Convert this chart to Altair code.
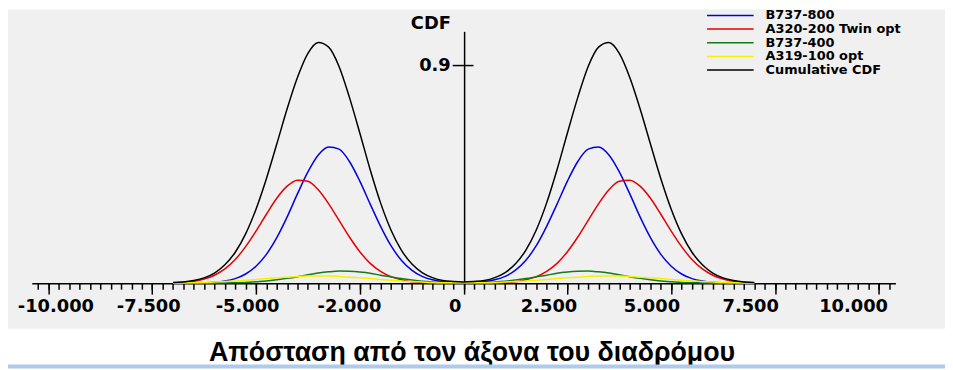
import altair as alt
import pandas as pd

# ---- data ----
x_pos = [-7000, -6750, -6500, -6250, -6000, -5750, -5500, -5250, -5000, -4750,
         -4500, -4250, -4000, -3750, -3500, -3250, -3000, -2750, -2500, -2250,
         -2000, -1750, -1500, -1250, -1000, -750, -500, -250, 0,
         250, 500, 750, 1000, 1250, 1500, 1750, 2000, 2250, 2500,
         2750, 3000, 3250, 3500, 3750, 4000, 4250, 4500, 4750, 5000,
         5250, 5500, 5750, 6000, 6250, 6500, 6750, 7000]

b737_800 = [0.000, 0.000, 0.001, 0.002, 0.004, 0.009, 0.019, 0.038, 0.070, 0.119,
            0.188, 0.274, 0.370, 0.460, 0.530, 0.563, 0.554, 0.503, 0.422, 0.327,
            0.235, 0.155, 0.095, 0.054, 0.028, 0.014, 0.006, 0.003, 0.002,
            0.003, 0.006, 0.014, 0.028, 0.054, 0.095, 0.155, 0.235, 0.327, 0.422,
            0.503, 0.554, 0.563, 0.530, 0.460, 0.370, 0.274, 0.188, 0.119, 0.070,
            0.038, 0.019, 0.009, 0.004, 0.002, 0.001, 0.000, 0.000]

a320_200 = [0.002, 0.004, 0.008, 0.017, 0.033, 0.059, 0.098, 0.151, 0.215, 0.285,
            0.351, 0.401, 0.426, 0.421, 0.386, 0.328, 0.260, 0.191, 0.130, 0.082,
            0.049, 0.027, 0.014, 0.006, 0.003, 0.001, 0.000, 0.000, 0.000,
            0.000, 0.000, 0.001, 0.003, 0.006, 0.014, 0.027, 0.049, 0.082, 0.130,
            0.191, 0.260, 0.328, 0.386, 0.421, 0.426, 0.401, 0.351, 0.285, 0.215,
            0.151, 0.098, 0.059, 0.033, 0.017, 0.008, 0.004, 0.002]

b737_400 = [0.000, 0.000, 0.000, 0.000, 0.000, 0.001, 0.002, 0.003, 0.006, 0.009,
            0.014, 0.020, 0.027, 0.035, 0.042, 0.047, 0.050, 0.049, 0.046, 0.041,
            0.033, 0.026, 0.019, 0.013, 0.008, 0.005, 0.003, 0.002, 0.002,
            0.002, 0.003, 0.005, 0.008, 0.013, 0.019, 0.026, 0.033, 0.041, 0.046,
            0.049, 0.050, 0.047, 0.042, 0.035, 0.027, 0.020, 0.014, 0.009, 0.006,
            0.003, 0.002, 0.001, 0.000, 0.000, 0.000, 0.000, 0.000]

a319_100 = [0.001, 0.001, 0.002, 0.003, 0.005, 0.007, 0.009, 0.012, 0.015, 0.019,
            0.022, 0.025, 0.028, 0.030, 0.030, 0.030, 0.028, 0.025, 0.022, 0.019,
            0.015, 0.012, 0.009, 0.007, 0.005, 0.003, 0.002, 0.002, 0.002,
            0.002, 0.002, 0.003, 0.005, 0.007, 0.009, 0.012, 0.015, 0.019, 0.022,
            0.025, 0.028, 0.030, 0.030, 0.030, 0.028, 0.025, 0.022, 0.019, 0.015,
            0.012, 0.009, 0.007, 0.005, 0.003, 0.002, 0.001, 0.001]

cumulative = [0.003, 0.005, 0.011, 0.022, 0.042, 0.076, 0.128, 0.204, 0.306, 0.432,
              0.575, 0.721, 0.851, 0.950, 0.995, 0.976, 0.896, 0.768, 0.621, 0.469,
              0.332, 0.220, 0.137, 0.080, 0.044, 0.023, 0.011, 0.007, 0.005,
              0.007, 0.011, 0.023, 0.044, 0.080, 0.137, 0.220, 0.332, 0.469, 0.621,
              0.768, 0.896, 0.976, 0.995, 0.950, 0.851, 0.721, 0.575, 0.432, 0.306,
              0.204, 0.128, 0.076, 0.042, 0.022, 0.011, 0.005, 0.003]

series_names = ["B737-800", "A320-200 Twin opt", "B737-400", "A319-100 opt", "Cumulative CDF"]
series_colors = ["#0000e6", "#e60000", "#157a15", "#f2f200", "#000000"]

major_ticks = [-10000, -7500, -5000, -2500, 0, 2500, 5000, 7500, 10000]
major_labels = ["-10.000", "-7.500", "-5.000", "-2.000", "0", "2.500", "5.000", "7.500", "10.000"]
label_shift = [7, -4, -9, -11, -9, -19, -20, -25, -26]
minor_ticks = list(range(-10250, 10251, 250))
y_ticks = [0.9]

title_text = "Απόσταση από τον άξονα του διαδρόμου"

# ---- table ----
rows = []
for name, vals in zip(series_names, [b737_800, a320_200, b737_400, a319_100, cumulative]):
    for xv, yv in zip(x_pos, vals):
        rows.append({"x": xv, "series": name, "cdf": yv})
df = pd.DataFrame(rows)
legend_df = pd.DataFrame({"series": series_names})

xscale = alt.Scale(domain=[-10400, 10400], range=[24, 895], nice=False, zero=False)
yscale = alt.Scale(domain=[0, 1.041], range=[276, 22], nice=False, zero=False)
color_scale = alt.Scale(domain=series_names, range=series_colors)

label_expr = "[" + ",".join("'%s'" % s for s in major_labels) + "][indexof([" + \
    ",".join(str(v) for v in major_ticks) + "], datum.value)]"
label_offset = {
    "condition": [{"test": "datum.value === %d" % v, "value": o}
                  for v, o in zip(major_ticks, label_shift)],
    "value": 0,
}

lines = alt.Chart(df).mark_line(strokeWidth=1.5, interpolate="monotone").encode(
    x=alt.X("x:Q", scale=xscale, axis=alt.Axis(
        values=major_ticks, labelExpr=label_expr, orient="bottom", offset=-46,
        tickSize=11, tickWidth=1.5, tickColor="black", domainColor="black",
        domainWidth=1.5, labelFont="DejaVu Sans", labelFontWeight="bold",
        labelFontSize=18, labelColor="black", labelPadding=4,
        labelOffset=label_offset, labelFlush=False, labelOverlap=False,
        labelBound=False, grid=False, title=None)),
    y=alt.Y("cdf:Q", scale=yscale, axis=alt.Axis(
        values=y_ticks, format=".1f", orient="left", offset=-460,
        tickSize=12, tickWidth=1.5, tickColor="black", domainColor="black",
        domainWidth=1.5, labelFont="DejaVu Sans", labelFontWeight="bold",
        labelFontSize=18, labelColor="black", labelPadding=2,
        labelBaseline="middle", grid=False,
        title="CDF", titleAngle=0, titleX=-34, titleY=14, titleAlign="center",
        titleBaseline="middle", titleFont="DejaVu Sans", titleFontWeight="bold",
        titleFontSize=18, titleColor="black")),
    color=alt.Color("series:N", sort=series_names, scale=color_scale, legend=None),
)

minor = alt.Chart(df).mark_line(opacity=0).encode(
    x=alt.X("x:Q", scale=xscale, axis=alt.Axis(
        values=minor_ticks, orient="bottom", offset=-46, tickSize=6,
        tickWidth=1.5, tickColor="black", labels=False, domain=False,
        grid=False, title=None)),
    y=alt.Y("cdf:Q", scale=yscale, axis=alt.Axis(
        values=y_ticks, orient="right", offset=-485, tickSize=9,
        tickWidth=1.5, tickColor="black", labels=False, domain=False,
        grid=False, title=None)),
    detail="series:N",
)

# legend drawn from the series list through a point scale
leg_y = alt.Y("series:N", sort=series_names,
              scale=alt.Scale(type="point", domain=series_names, range=[6, 61], padding=0),
              axis=None)
leg_lines = alt.Chart(legend_df).mark_rule(strokeWidth=1.5).encode(
    y=leg_y, x=alt.value(705), x2=alt.value(752),
    color=alt.Color("series:N", sort=series_names, scale=color_scale, legend=None),
)
leg_text = alt.Chart(legend_df).mark_text(
    align="left", baseline="middle", font="DejaVu Sans", fontWeight="bold",
    fontSize=13, color="black"
).encode(y=leg_y, x=alt.value(764), text="series:N")

title_layer = alt.Chart(alt.Data(values=[{"label": title_text}])).mark_text(
    font="Liberation Sans", fontWeight="bold", fontSize=27, color="black",
    align="center", baseline="alphabetic"
).encode(x=alt.value(468), y=alt.value(354), text="label:N")

strip = alt.Chart(alt.Data(values=[{"k": 1}])).mark_rule(
    color="#aecbee", strokeWidth=4
).encode(x=alt.value(0), x2=alt.value(945), y=alt.value(360))

chart = alt.layer(lines, minor, leg_lines, leg_text, title_layer, strip).resolve_scale(
    y="independent"
).resolve_axis(
    x="independent", y="independent"
).properties(
    width=945, height=322,
    padding={"left": 0, "top": 0, "right": 0, "bottom": 40},
    autosize=alt.AutoSizeParams(type="none"),
    background="white",
).configure_view(fill="#f0f0f0", stroke=None)

chart.save("out.html", embed_options={"renderer": "svg", "actions": False})
